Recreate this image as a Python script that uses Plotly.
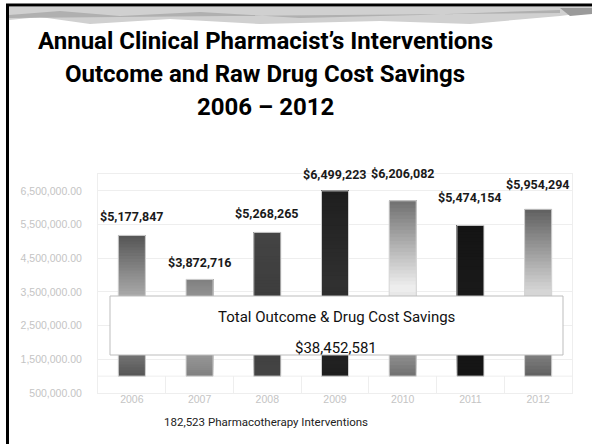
import plotly.graph_objects as go

# ---------------- data ----------------
years = ["2006", "2007", "2008", "2009", "2010", "2011", "2012"]
savings = [5177847, 3872716, 5268265, 6499223, 6206082, 5474154, 5954294]
bar_labels = ["$5,177,847", "$3,872,716", "$5,268,265", "$6,499,223",
              "$6,206,082", "$5,474,154", "$5,954,294"]
tick_vals = [500000, 1500000, 2500000, 3500000, 4500000, 5500000, 6500000]
tick_text = ["500,000.00", "1,500,000.00", "2,500,000.00", "3,500,000.00",
             "4,500,000.00", "5,500,000.00", "6,500,000.00"]
title_lines = ["Annual Clinical Pharmacist\u2019s Interventions",
               "Outcome and Raw Drug Cost Savings",
               "2006 \u2013 2012"]
total_title = "Total Outcome & Drug Cost Savings"
total_value = "$38,452,581"
footer = "182,523 Pharmacotherapy Interventions"

# ---------------- style ----------------
BASE = 1000000
# (edge colour, centre colour) of each bar's reflected gradient
grad = [("#555555", "#b8b8b8"), ("#808080", "#b4b4b4"), ("#444444", "#3c3c3c"),
        ("#1e1e1e", "#303030"), ("#707070", "#f0f0f0"), ("#141414", "#1a1a1a"),
        ("#606060", "#d8d8d8")]
label_shift = [19, 17, 19, 16, 27, 28, 25]

W, H = 592, 444
L, R, T, B = 98, 20, 174, 51
PW, PH = W - L - R, H - T - B

xpos = list(range(len(years)))


def xp(px):
    return (px - L) / PW


def yp(py):
    return (H - B - py) / PH


def hex2rgb(h):
    return tuple(int(h[i:i + 2], 16) for i in (1, 3, 5))


def mix(c1, c2, t):
    a, b = hex2rgb(c1), hex2rgb(c2)
    return "rgb(%d,%d,%d)" % tuple(round(a[k] + (b[k] - a[k]) * t) for k in range(3))


fig = go.Figure()
N = 48
for i in range(N):
    t = (i + 0.5) / N
    d = abs(t - 0.5) * 2
    bases = [BASE + (v - BASE) * i / N for v in savings]
    heights = [(v - BASE) * (N - i) / N for v in savings]
    cols = [mix(c, e, d) for (e, c) in grad]
    fig.add_trace(go.Bar(x=xpos, y=heights, base=bases, width=0.4,
                         marker=dict(color=cols, line=dict(width=0)),
                         hoverinfo="skip", showlegend=False))
# outline
fig.add_trace(go.Bar(x=xpos, y=[v - BASE for v in savings], base=[BASE] * len(years),
                     width=0.4, marker=dict(color="rgba(0,0,0,0)",
                                            line=dict(width=1, color="#d6d6d6")),
                     hoverinfo="skip", showlegend=False))

sans = "Roboto, Liberation Sans, sans-serif"
ann = []
for xi, v, lab, s in zip(xpos, savings, bar_labels, label_shift):
    ann.append(dict(x=xi, y=v, xref="x", yref="y", text="<b>%s</b>" % lab,
                    showarrow=False, yshift=s, yanchor="middle",
                    font=dict(family=sans, size=12.5, color="#1a1a1a")))

for line, py in zip(title_lines, [41, 74, 107]):
    ann.append(dict(x=xp(265), y=yp(py), xref="paper", yref="paper",
                    text="<b>%s</b>" % line, showarrow=False, yanchor="middle",
                    font=dict(family=sans, size=24, color="#000000")))

ann.append(dict(x=xp(336), y=yp(317), xref="paper", yref="paper", text=total_title,
                showarrow=False, yanchor="middle",
                font=dict(family=sans, size=15, color="#111111")))
ann.append(dict(x=xp(336), y=yp(348), xref="paper", yref="paper", text=total_value,
                showarrow=False, yanchor="middle",
                font=dict(family=sans, size=15, color="#111111")))
ann.append(dict(x=xp(266), y=yp(422), xref="paper", yref="paper", text=footer,
                showarrow=False, yanchor="middle",
                font=dict(family=sans, size=11.5, color="#222222")))

shapes = []
# base gridline
shapes.append(dict(type="line", xref="paper", yref="y", x0=0, x1=1, y0=BASE, y1=BASE,
                   line=dict(color="#eeeeee", width=1), layer="below"))
# banner
shapes.append(dict(type="path", xref="paper", yref="paper", layer="above",
                   path="M %f %f L %f %f L %f %f L %f %f L %f %f L %f %f L %f %f L %f %f L %f %f L %f %f L %f %f Z" % (
                       xp(9), yp(7), xp(592), yp(7), xp(592), yp(12), xp(560), yp(16),
                       xp(470), yp(24), xp(380), yp(21), xp(260), yp(24), xp(170), yp(19),
                       xp(90), yp(24), xp(40), yp(17), xp(9), yp(20)),
                   fillcolor="#d0d0d0", line=dict(width=0)))
shapes.append(dict(type="path", xref="paper", yref="paper", layer="above",
                   path="M %f %f L %f %f L %f %f L %f %f L %f %f L %f %f L %f %f L %f %f L %f %f Z" % (
                       xp(9), yp(15), xp(60), yp(11), xp(120), yp(16), xp(200), yp(12),
                       xp(300), yp(18), xp(420), yp(15), xp(560), yp(10), xp(560), yp(13),
                       xp(9), yp(18)),
                   fillcolor="#b0b0b0", line=dict(width=0)))
shapes.append(dict(type="path", xref="paper", yref="paper", layer="above",
                   path="M %f %f L %f %f L %f %f L %f %f Z" % (
                       xp(560), yp(8), xp(592), yp(8), xp(592), yp(14), xp(570), yp(16)),
                   fillcolor="#9a9a9a", line=dict(width=0)))
# slide borders
shapes.append(dict(type="line", xref="paper", yref="paper", x0=xp(7.5), x1=xp(7.5),
                   y0=yp(4), y1=yp(446), line=dict(color="#000000", width=3)))
shapes.append(dict(type="line", xref="paper", yref="paper", x0=xp(6), x1=xp(594),
                   y0=yp(5), y1=yp(5), line=dict(color="#000000", width=3)))
# total box
shapes.append(dict(type="rect", xref="paper", yref="paper", x0=xp(110), x1=xp(563),
                   y0=yp(296), y1=yp(355), fillcolor="#ffffff",
                   line=dict(color="#bdbdbd", width=1), layer="above"))

fig.update_layout(
    width=W, height=H, margin=dict(l=L, r=R, t=T, b=B),
    paper_bgcolor="#ffffff", plot_bgcolor="#ffffff",
    barmode="overlay", showlegend=False,
    annotations=ann, shapes=shapes,
    font=dict(family="Liberation Sans, Arial, sans-serif"),
)
fig.update_yaxes(range=[500000, 7000000], autorange=False, tickvals=tick_vals,
                 ticktext=tick_text,
                 showgrid=True, gridcolor="#eeeeee", gridwidth=1, zeroline=False,
                 showline=True, linecolor="#eeeeee", mirror=True, ticks="",
                 ticklabelstandoff=13,
                 tickfont=dict(family="Liberation Sans, sans-serif", size=10.5, color="#c4c4c4"))
fig.update_xaxes(type="linear", range=[-0.5, len(years) - 0.5], autorange=False,
                 tickvals=xpos, ticktext=years, ticks="",
                 showgrid=False, showline=True, linecolor="#eeeeee", mirror=True,
                 zeroline=False, ticklabelstandoff=-4,
                 minor=dict(tickvals=[k + 0.5 for k in xpos[:-1]], ticks="inside",
                            ticklen=17, tickcolor="#eeeeee", showgrid=False),
                 tickfont=dict(family="Liberation Sans, sans-serif", size=10.5, color="#c4c4c4"))

fig.write_html("out.html")
